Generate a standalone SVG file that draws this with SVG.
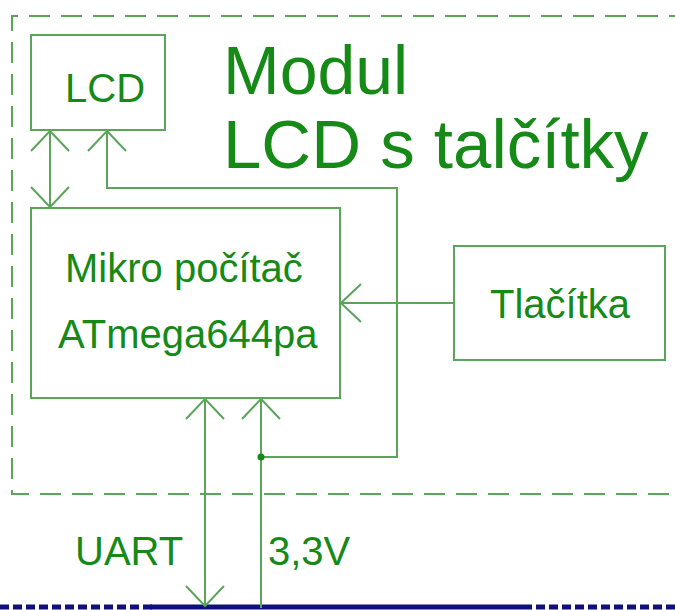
<svg xmlns="http://www.w3.org/2000/svg" width="675" height="610" viewBox="0 0 675 610">
<style>
.box{fill:#fff;stroke:#5aa55a;stroke-width:2}
.ln{fill:none;stroke:#5aa55a;stroke-width:2}
.t{font-family:"Liberation Sans",Arial,sans-serif;fill:#168a16;font-size:40px}
</style>
<defs>
<marker id="ah" viewBox="-21 -21 22 42" refX="0" refY="0" markerWidth="22" markerHeight="42" markerUnits="userSpaceOnUse" orient="auto-start-reverse">
<path d="M-20,-19 L0,0 L-20,19" fill="none" stroke="#5aa55a" stroke-width="2"/>
</marker>
</defs>
<rect width="675" height="610" fill="#fff"/>
<g id="module">
<path d="M690,16 H12 V494 H690" fill="none" stroke="#5aa55a" stroke-width="2" stroke-dasharray="21 11"/>
<text class="t" x="223" y="94" style="font-size:68px">Modul</text>
<text class="t" x="223" y="168" style="font-size:69px">LCD s talčítky</text>
</g>
<g id="bus">
<line x1="0" y1="607" x2="152" y2="607" stroke="#10107a" stroke-width="5" stroke-dasharray="9 4"/>
<line x1="150" y1="607" x2="523" y2="607" stroke="#10107a" stroke-width="5"/>
<line x1="523" y1="607" x2="675" y2="607" stroke="#10107a" stroke-width="5" stroke-dasharray="9 4"/>
</g>
<g id="connectors">
<line class="ln" x1="50" y1="131" x2="50" y2="207" marker-start="url(#ah)" marker-end="url(#ah)"/>
<polyline class="ln" points="261,457 397,457 397,188 107,188 107,131" marker-end="url(#ah)"/>
<line class="ln" x1="454" y1="303" x2="341" y2="303" marker-end="url(#ah)"/>
<line class="ln" x1="205" y1="399" x2="205" y2="606" marker-start="url(#ah)" marker-end="url(#ah)"/>
<line class="ln" x1="261" y1="608" x2="261" y2="399" marker-end="url(#ah)"/>
<circle cx="261" cy="457" r="3.5" fill="#168a16"/>
</g>
<g id="lcd">
<rect class="box" x="31" y="35" width="134" height="95"/>
<text class="t" x="65" y="102">LCD</text>
</g>
<g id="mcu">
<rect class="box" x="31" y="208" width="309" height="190"/>
<text class="t" x="65" y="282">Mikro počítač</text>
<text class="t" x="58" y="348">ATmega644pa</text>
</g>
<g id="buttons">
<rect class="box" x="454" y="246" width="211" height="114"/>
<text class="t" x="490" y="318">Tlačítka</text>
</g>
<g id="labels">
<text class="t" x="75" y="565">UART</text>
<text class="t" x="268" y="565">3,3V</text>
</g>
</svg>
